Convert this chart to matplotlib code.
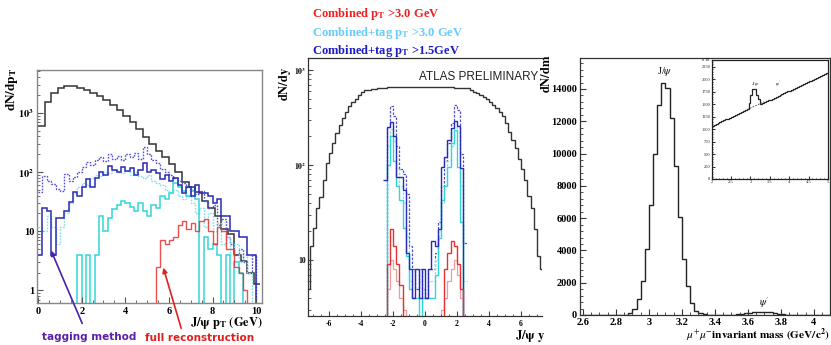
import numpy as np
import matplotlib
matplotlib.use("Agg")
import matplotlib.pyplot as plt
from matplotlib.patches import FancyArrowPatch
from matplotlib.ticker import FixedLocator, MultipleLocator, NullFormatter, LogLocator

plt.rcParams['font.family'] = ['Liberation Serif', 'DejaVu Serif']
plt.rcParams['mathtext.fontset'] = 'stix'

W, H = 831, 345

# ---------------- Panel 1 data: J/psi pT ----------------
pt_edges_black = np.round(np.arange(0, 10.2 + 1e-6, 0.3), 3)
pt_black = [600, 1550, 2190, 2630, 2820, 2820, 2630, 2450, 2190, 1950, 1660, 1380,
            1120, 890, 710, 525, 390, 295, 230, 178, 135, 100, 68, 56, 46, 33, 25,
            18, 11, 9, 4, 3.2, 2, 1.3]
pt_edges = np.round(np.arange(0, 10.2 + 1e-6, 0.2), 3)
pt_tag15_dot = [46, 87, 70, 63, 52, 48, 93, 70, 83, 100, 120, 148, 132, 158, 178, 151,
                204, 166, 190, 158, 200, 178, 214, 166, 263, 200, 158, 145, 112, 100,
                89, 79, 71, 66, 56, 50, 43, 48, 32, 25, 28, 13, 16, 8, 6, 4, 5, 3, 2, 4, 0]
pt_tag15 = [4, 25, 22, 4, 17, 17, 22, 31, 46, 40, 55, 75, 55, 80, 100, 90, 125, 110, 100,
            120, 105, 115, 90, 110, 140, 100, 110, 95, 75, 90, 70, 80, 60, 45, 55, 40, 60,
            45, 45, 40, 30, 35, 18, 18, 10, 10, 8, 8, 4, 4, 0]
pt_tag30_dot = [12, 10, 18, 12, 6, 12, 20, 30, 45, 55, 65, 60, 80, 90, 85, 100, 95, 110,
                100, 95, 105, 90, 100, 85, 80, 90, 70, 65, 60, 50, 45, 50, 40, 35, 40, 30,
                20, 25, 12, 20, 10, 14, 6, 8, 4, 6, 3, 4, 2, 0, 0]
pt_tag30 = [0, 0, 0, 0, 0, 0, 0, 0, 0, 4, 0, 4, 0, 4, 18, 10, 17, 24, 28, 32, 30, 26, 22,
            30, 22, 18, 28, 25, 40, 35, 45, 65, 55, 48, 40, 48, 35, 0, 8, 5, 6, 4, 0, 4,
            0, 3, 2, 0, 0, 0, 0]
pt_comb30 = [0] * 27 + [2.5, 7, 6, 7, 8, 13, 15, 11, 14, 10, 15, 16, 10, 6, 12, 10, 5, 5,
                        2.5, 2, 1, 0, 0, 0]

# ---------------- Panel 2 data: J/psi rapidity ----------------
y_edges_black = np.round(np.arange(-7.4, 7.4 + 1e-6, 0.2), 3)
y_black = [5, 14, 22, 35, 46, 69, 105, 135, 170, 218, 265, 310, 363, 415, 465, 500, 545,
           590, 610, 615, 625, 630, 640, 645,
           650, 655, 660, 655, 660, 665, 660, 665, 660, 655, 660, 665, 670, 665, 670, 665,
           660, 665, 660, 655, 660, 655, 650, 650, 645, 645,
           640, 620, 590, 575, 545, 525, 490, 465, 430, 400, 365, 325, 280, 225, 185, 150,
           115, 90, 70, 47, 35, 21, 11, 8]
y_edges = np.round(np.arange(-2.6, 2.6 + 1e-6, 0.2), 3)
y_tag15_dot = [0, 250, 420, 330, 160, 90, 80, 50, 14, 8, 5, 8, 5, 4, 8, 8, 12, 25, 60,
               110, 170, 280, 430, 380, 130, 15]
y_tag15 = [70, 250, 285, 200, 75, 74, 55, 12, 8, 4, 8, 4, 8, 4, 8, 16, 14, 21, 96, 122,
           182, 245, 290, 260, 93, 0]
y_tag30_dot = [0, 160, 240, 180, 90, 60, 40, 18, 6, 4, 4, 6, 4, 4, 6, 6, 10, 18, 40, 60,
               110, 160, 250, 220, 60, 6]
y_tag30 = [0, 100, 200, 110, 60, 43, 22, 11, 5, 4, 4, 0, 4, 4, 4, 4, 7, 17, 43, 60, 95,
           170, 235, 95, 25, 0]
y_comb30 = [0, 9, 21, 14, 9, 5.5, 0, 0, 0, 0, 0, 0, 0, 0, 0, 0, 0, 0, 0, 8, 12, 16, 14,
            9, 5, 0]
y_comb30_b = [0, 5, 10, 8, 6, 4, 3, 0, 0, 0, 0, 0, 0, 0, 0, 0, 0, 0, 3, 4, 6, 8, 10, 7,
              4, 0]

# ---------------- Panel 3 data: dimuon mass ----------------
m_edges = np.round(np.arange(2.6, 4.1 + 1e-6, 0.025), 4)
m_counts = [0, 0, 0, 2, 0, 3, 5, 4, 8, 10,
            20, 100, 350, 970, 2120, 4080, 6840, 9950, 13030, 14350, 14060, 12210, 9225,
            6095, 3440, 1790, 720, 270, 100, 40,
            20, 15, 12, 10, 12, 15,
            25, 50, 80, 120, 150, 170, 190, 210, 190, 160, 120, 80, 40, 20, 10,
            8, 5, 4, 3, 2, 2, 1, 0, 0]
inset_edges = np.round(np.arange(2.0, 5.0 + 1e-6, 0.05), 3)
inset_counts = [1069, 1087, 1105, 1124, 1142, 1160, 1178, 1196, 1214, 1232,
                1251, 1269, 1287, 1305, 1323, 1341, 1360, 1378, 1396, 1530,
                1680, 1800, 1800, 1690, 1610, 1505, 1523, 1541, 1559, 1577,
                1595, 1613, 1632, 1650, 1668, 1686, 1704, 1722, 1741, 1759,
                1777, 1795, 1813, 1831, 1850, 1868, 1886, 1904, 1922, 1940,
                1959, 1977, 1995, 2013, 2031, 2049, 2068, 2086, 2104, 2122]
inset_fit_m = [2.85, 3.35]
inset_fit_v = [1370, 1550]

# ---------------- colours ----------------
C_BLACK = '#333333'
C_BLUE = '#2a2ab8'
C_BLUE_D = '#5252d0'
C_CYAN = '#33d6d6'
C_CYAN_D = '#7fe0ea'
C_RED = '#e83030'
C_PINK = '#f29a9a'


def fx(px):
    return px / W


def fy(py):
    return 1 - py / H


fig = plt.figure(figsize=(W / 100, H / 100), dpi=100)
fig.patch.set_facecolor('white')


def logstairs(ax, vals, edges, **kw):
    v = np.asarray(vals, dtype=float)
    v = np.where(v > 0, v, 1e-3)
    ax.stairs(v, edges, baseline=None, **kw)


# ---------------- Panel 1 ----------------
ax1 = fig.add_axes([fx(37), fy(302.5), fx(262) - fx(37), fy(70) - fy(302.5)])
ax1.set_yscale('log')
ax1.set_xlim(-0.05, 10.27)
ax1.set_ylim(0.627, 5300)
logstairs(ax1, pt_black, pt_edges_black, color=C_BLACK, lw=1.1)
logstairs(ax1, pt_tag15_dot, pt_edges, color=C_BLUE_D, lw=1.0, ls=(0, (1.2, 1.0)))
logstairs(ax1, pt_tag30_dot, pt_edges, color=C_CYAN_D, lw=1.0, ls=(0, (1.2, 1.0)))
logstairs(ax1, pt_tag30, pt_edges, color=C_CYAN, lw=1.1)
logstairs(ax1, pt_tag15, pt_edges, color=C_BLUE, lw=1.1)
logstairs(ax1, pt_comb30, pt_edges, color=C_RED, lw=1.0, alpha=0.85)
for s in ax1.spines.values():
    s.set_color('#888888')
    s.set_linewidth(1.0)
ax1.xaxis.set_major_locator(FixedLocator([0, 2, 4, 6, 8, 10]))
ax1.xaxis.set_minor_locator(MultipleLocator(0.5))
ax1.yaxis.set_major_locator(FixedLocator([1, 10, 100, 1000]))
ax1.yaxis.set_minor_locator(LogLocator(base=10, subs=np.arange(2, 10)))
ax1.yaxis.set_minor_formatter(NullFormatter())
ax1.set_yticklabels(['1', '10', r'$\mathbf{10^{2}}$', r'$\mathbf{10^{3}}$'])
ax1.tick_params(which='both', direction='in', top=False, right=False, colors='#555555',
                labelcolor='black', labelsize=7.5)
ax1.tick_params(which='major', length=4)
ax1.tick_params(which='minor', length=2)
ax1.tick_params(axis='x', pad=3)
ax1.tick_params(axis='y', pad=2)
for lab in ax1.get_xticklabels() + ax1.get_yticklabels():
    lab.set_fontweight('bold')

fig.text(fx(12), fy(89), r'$\mathbf{dN/dp_{T}}$', rotation=90, ha='center', va='center',
         fontsize=9.5)
fig.text(fx(263), fy(323), r'$\mathbf{J/\psi\ p_{T}\ (GeV)}$', ha='right', va='center',
         fontsize=9)

# ---------------- Panel 2 ----------------
ax2 = fig.add_axes([fx(308), fy(316), fx(542) - fx(308), fy(58) - fy(316)])
ax2.set_yscale('log')
ax2.set_xlim(-7.31, 7.31)
ax2.set_ylim(2.58, 1337)
logstairs(ax2, y_black, y_edges_black, color=C_BLACK, lw=1.0)
logstairs(ax2, y_tag15_dot, y_edges, color=C_BLUE_D, lw=0.9, ls=(0, (2.0, 1.2)))
logstairs(ax2, y_tag30_dot, y_edges, color=C_CYAN_D, lw=0.9, ls=(0, (2.0, 1.2)))
logstairs(ax2, y_tag30, y_edges, color=C_CYAN, lw=1.0)
logstairs(ax2, y_tag15, y_edges, color=C_BLUE, lw=1.0)
logstairs(ax2, y_comb30_b, y_edges, color=C_PINK, lw=0.9)
logstairs(ax2, y_comb30, y_edges, color=C_RED, lw=1.0)
ax2.spines['right'].set_visible(False)
for k in ['left', 'top', 'bottom']:
    ax2.spines[k].set_color('#333333')
    ax2.spines[k].set_linewidth(0.9)
ax2.xaxis.set_major_locator(FixedLocator([-6, -4, -2, 0, 2, 4, 6]))
ax2.xaxis.set_minor_locator(MultipleLocator(0.5))
ax2.yaxis.set_major_locator(FixedLocator([10, 100, 1000]))
ax2.yaxis.set_minor_locator(LogLocator(base=10, subs=np.arange(2, 10)))
ax2.yaxis.set_minor_formatter(NullFormatter())
ax2.set_yticklabels(['10', r'$\mathbf{10^{2}}$', r'$\mathbf{10^{3}}$'])
ax2.set_xticklabels(['-6', '-4', '-2', '0', '2', '4', '6'])
ax2.tick_params(which='both', direction='in', top=False, right=False, colors='#444444',
                labelcolor='black', labelsize=5.5)
ax2.tick_params(which='major', length=3.5)
ax2.tick_params(which='minor', length=1.8)
ax2.tick_params(axis='x', pad=3)
ax2.tick_params(axis='y', pad=1.5)
for lab in ax2.get_xticklabels() + ax2.get_yticklabels():
    lab.set_fontweight('bold')
ax2.text(0.985, 0.95, 'ATLAS PRELIMINARY', transform=ax2.transAxes, ha='right', va='top',
         fontsize=8.5, family='Liberation Sans', color='#222222')

fig.text(fx(285), fy(84), r'$\mathbf{dN/dy}$', rotation=90, ha='center', va='center',
         fontsize=9)
fig.text(fx(545), fy(336), r'$\mathbf{J/\psi\ y}$', ha='right', va='center', fontsize=9)

# legend-like titles
fig.text(fx(312), fy(14), r'Combined $\mathbf{p_{T}}$ >3.0 GeV', ha='left', va='center',
         fontsize=9, fontweight='bold', color='#ee2020')
fig.text(fx(312), fy(33), r'Combined+tag $\mathbf{p_{T}}$ >3.0 GeV', ha='left',
         va='center', fontsize=9, fontweight='bold', color='#66ccff')
fig.text(fx(312), fy(51), r'Combined+tag $\mathbf{p_{T}}$ >1.5GeV', ha='left', va='center',
         fontsize=9, fontweight='bold', color='#1c1cc4')

# ---------------- Panel 3 ----------------
ax3 = fig.add_axes([fx(580), fy(315), fx(830) - fx(580), fy(57.5) - fy(315)])
ax3.set_xlim(2.582, 4.097)
ax3.set_ylim(0, 15950)
ax3.stairs(m_counts, m_edges, baseline=None, color='#222222', lw=1.0)
for s in ax3.spines.values():
    s.set_color('#333333')
    s.set_linewidth(0.9)
ax3.xaxis.set_major_locator(FixedLocator([2.6, 2.8, 3.0, 3.2, 3.4, 3.6, 3.8, 4.0]))
ax3.xaxis.set_minor_locator(MultipleLocator(0.05))
ax3.set_xticklabels(['2.6', '2.8', '3', '3.2', '3.4', '3.6', '3.8', '4'])
ax3.yaxis.set_major_locator(MultipleLocator(2000))
ax3.yaxis.set_minor_locator(MultipleLocator(400))
ax3.tick_params(which='both', direction='in', top=False, right=False, colors='#333333',
                labelcolor='black', labelsize=7.5)
ax3.tick_params(which='major', length=4)
ax3.tick_params(which='minor', length=2)
ax3.tick_params(axis='x', pad=2)
ax3.tick_params(axis='y', pad=2)
for lab in ax3.get_xticklabels() + ax3.get_yticklabels():
    lab.set_fontweight('bold')
ax3.text(3.098, 15100, r'J/$\psi$', ha='center', va='center', fontsize=7.5)
ax3.text(3.7, 750, r"$\psi'$", ha='center', va='center', fontsize=7.5)

fig.text(fx(546), fy(74), r'$\mathbf{dN/dm}$', rotation=90, ha='center', va='center',
         fontsize=9)
fig.text(fx(830), fy(335), r'$\mu^{+}\mu^{-}$$\mathbf{invariant\ mass\ (GeV/c^{2})}$',
         ha='right', va='center', fontsize=8.2)

# ---------------- inset ----------------
axin = fig.add_axes([fx(711.7), fy(179), fx(828) - fx(711.7), fy(60) - fy(179)])
axin.set_xlim(2, 5)
axin.set_ylim(0, 2390)
axin.stairs(inset_counts, inset_edges, baseline=None, color='#222222', lw=0.9)
axin.plot(inset_fit_m, inset_fit_v, color='#444444', lw=0.6, ls=(0, (2, 1.5)))
for s in axin.spines.values():
    s.set_color('#222222')
    s.set_linewidth(0.9)
axin.xaxis.set_major_locator(FixedLocator([2, 2.5, 3, 3.5, 4, 4.5, 5]))
axin.xaxis.set_minor_locator(MultipleLocator(0.1))
axin.set_xticklabels(['2', '2.5', '3', '3.5', '4', '4.5', '5'])
axin.yaxis.set_major_locator(MultipleLocator(250))
axin.yaxis.set_minor_locator(MultipleLocator(50))
axin.tick_params(which='both', direction='in', top=False, right=False, colors='#333333',
                 labelcolor='#222222', labelsize=3.2, pad=1)
axin.tick_params(which='major', length=2)
axin.tick_params(which='minor', length=1)
axin.text(3.12, 1900, r'J/$\psi$', ha='center', va='center', fontsize=3.5)
axin.text(3.7, 1900, r"$\psi'$", ha='center', va='center', fontsize=3.5)
fig.text(fx(706), fy(60), 'x 10', ha='center', va='center', fontsize=3)

# ---------------- annotations ----------------
fig.text(fx(89), fy(336.5), 'tagging method', ha='center', va='center', fontsize=7.5,
         fontweight='bold', family='DejaVu Sans', color='#5a1fa8')
fig.text(fx(200), fy(338), 'full reconstruction', ha='center', va='center', fontsize=7.5,
         fontweight='bold', family='DejaVu Sans', color='#e02020')
fig.add_artist(FancyArrowPatch((fx(83.3), fy(326)), (fx(50), fy(248)),
                               transform=fig.transFigure, arrowstyle='-|>',
                               mutation_scale=7, color='#4a1fb0', lw=1.2, zorder=10))
fig.add_artist(FancyArrowPatch((fx(182), fy(331)), (fx(162.5), fy(265)),
                               transform=fig.transFigure, arrowstyle='-|>',
                               mutation_scale=7, color='#e02020', lw=1.2, zorder=10))

fig.savefig('out.png', dpi=100, facecolor='white')
